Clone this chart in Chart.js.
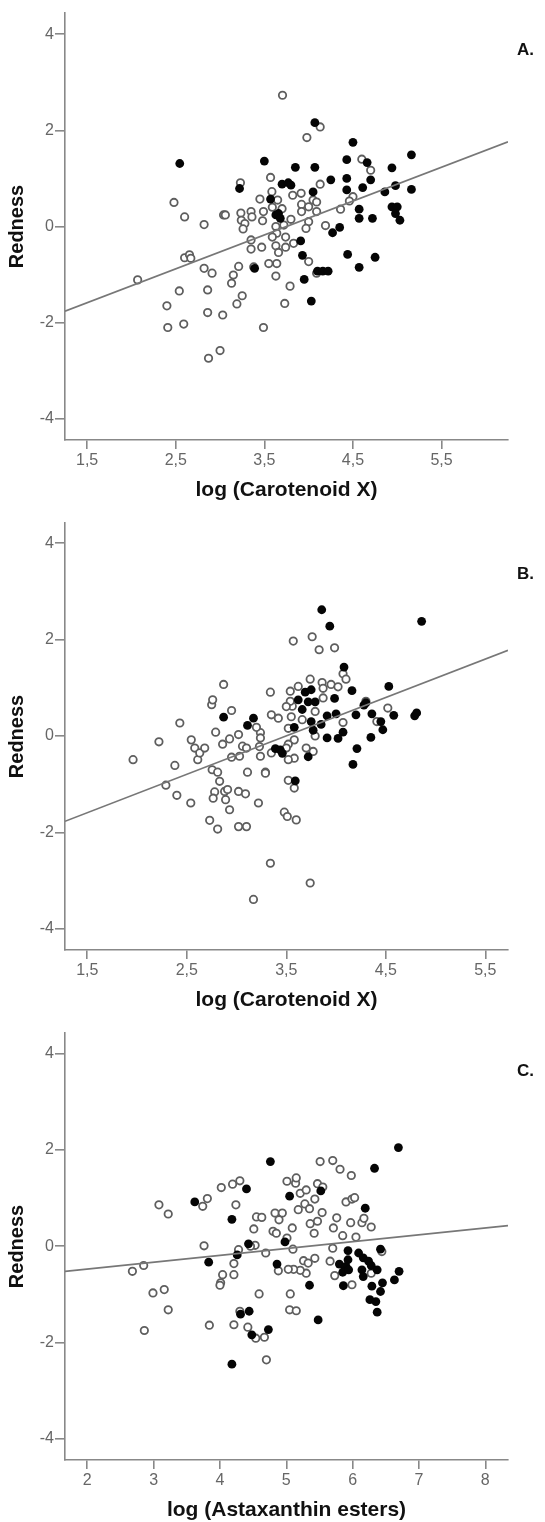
<!DOCTYPE html>
<html>
<head>
<meta charset="utf-8">
<script src="https://cdn.jsdelivr.net/npm/chart.js@4.4.0/dist/chart.umd.min.js"></script>
<style>
  html, body { margin: 0; padding: 0; background: #fff; }
  body { width: 545px; height: 1522px; position: relative; overflow: hidden; }
  canvas { position: absolute; left: 0; }
</style>
</head>
<body>
<canvas id="chartA" width="545" height="510" style="top:0px"></canvas>
<canvas id="chartB" width="545" height="510" style="top:510px"></canvas>
<canvas id="chartC" width="545" height="510" style="top:1020px"></canvas>
<script>
// ---- panel A: log (Carotenoid X) ----
var openA = [
  [2.07,-1.11],[2.48,0.50],[2.60,0.20],[2.82,0.04],[3.04,0.24],[2.60,-0.65],[2.655,-0.59],[2.67,-0.66],
  [2.54,-1.34],[2.40,-1.65],[2.41,-2.10],[2.59,-2.03],[2.86,-1.32],[2.86,-1.79],[3.03,-1.84],[2.82,-0.87],
  [2.91,-0.97],[2.87,-2.74],[3.00,-2.58],[3.19,-1.61],[3.25,-1.44],[3.13,-1.18],[3.15,-1.01],[3.21,-0.83],
  [3.49,-2.10],[3.73,-1.60],[3.79,-1.24],[3.63,-1.03],[3.705,2.73],[3.98,1.85],[4.13,2.07],[3.57,1.02],
  [3.23,0.91],[4.60,1.40],[4.70,1.17],[4.13,0.88],[4.50,0.62],[4.46,0.53],[4.36,0.36],[4.19,0.02],
  [4.00,-0.73],[4.09,-0.97],[3.585,0.725],[3.45,0.57],[3.65,0.55],[3.82,0.65],[3.915,0.69],[4.05,0.55],
  [3.06,0.24],[3.235,0.28],[3.35,0.31],[3.24,0.13],[3.36,0.20],[3.28,0.06],[3.26,-0.05],[3.49,0.31],
  [3.48,0.12],[3.59,0.40],[3.70,0.37],[3.92,0.46],[4.00,0.41],[4.09,0.51],[3.92,0.31],[4.09,0.31],
  [3.80,0.15],[4.00,0.10],[3.97,-0.04],[3.63,0.00],[3.72,0.03],[3.64,-0.14],[3.74,-0.22],[3.59,-0.22],
  [3.83,-0.35],[3.35,-0.28],[3.35,-0.47],[3.47,-0.43],[3.63,-0.40],[3.74,-0.43],[3.66,-0.54],[3.55,-0.77],
  [3.64,-0.77],[3.38,-0.84]
];
var filledA = [
  [2.545,1.31],[3.50,1.36],[4.50,1.75],[4.07,2.16],[3.85,1.23],[4.07,1.23],[4.43,1.39],[4.66,1.33],
  [5.16,1.49],[4.94,1.22],[4.70,0.97],[4.43,1.00],[4.25,0.97],[4.98,0.85],[4.61,0.81],[4.43,0.76],
  [4.86,0.72],[5.16,0.77],[4.94,0.41],[5.00,0.41],[4.98,0.27],[5.03,0.13],[4.57,0.36],[4.57,0.17],
  [4.72,0.17],[4.35,-0.02],[4.27,-0.13],[3.91,-0.30],[3.93,-0.60],[3.95,-1.10],[4.03,-1.55],[4.44,-0.58],
  [4.57,-0.85],[4.75,-0.64],[4.10,-0.93],[4.16,-0.93],[4.22,-0.93],[3.22,0.79],[3.70,0.88],[3.77,0.91],
  [3.80,0.86],[4.05,0.72],[3.57,0.57],[3.63,0.24],[3.66,0.27],[3.68,0.17],[3.39,-0.87]
];
var fitA = [[1.25,-1.76],[6.25,1.76]];
var xTicksA = [1.5, 2.5, 3.5, 4.5, 5.5];

// ---- panel B: log (Carotenoid X) ----
var openB = [
  [1.96,-0.49],[2.22,-0.12],[2.43,0.27],[2.38,-0.61],[2.29,-1.02],[2.40,-1.23],[2.54,-1.39],[2.545,-0.08],
  [2.58,-0.25],[2.61,-0.49],[2.63,-0.35],[2.68,-0.25],[2.73,-1.75],[2.81,-1.93],[2.75,0.65],[2.76,0.75],
  [2.87,1.07],[2.95,0.53],[2.79,0.08],[2.86,-0.17],[2.93,-0.06],[3.02,0.03],[2.95,-0.44],[2.755,-0.70],
  [2.81,-0.75],[2.83,-0.94],[2.78,-1.16],[2.765,-1.29],[2.88,-1.15],[2.91,-1.11],[2.89,-1.32],[2.93,-1.53],
  [3.02,-1.15],[3.09,-1.20],[3.11,-0.75],[3.03,-0.42],[3.06,-0.21],[3.10,-0.25],[3.02,-1.88],[3.10,-1.88],
  [3.22,-1.39],[3.29,-0.75],[3.34,-2.64],[3.17,-3.39],[3.74,-3.05],[3.34,0.91],[3.57,1.97],[3.76,2.06],
  [3.83,1.79],[3.985,1.83],[3.56,0.62],[3.48,-1.58],[3.51,-1.67],[3.60,-1.74],[3.52,-0.92],[3.58,-1.08],
  [3.77,-0.32],[4.07,1.29],[4.10,1.18],[3.74,1.18],[3.62,1.03],[3.54,0.93],[3.86,1.11],[3.95,1.07],
  [4.02,1.02],[3.87,0.99],[3.87,0.79],[3.54,0.72],[3.50,0.61],[3.35,0.44],[3.42,0.37],[3.55,0.40],
  [3.52,0.16],[3.66,0.34],[3.79,0.51],[4.52,0.58],[4.41,0.30],[4.30,0.72],[4.07,0.28],[3.79,0.00],
  [3.24,0.07],[3.24,-0.04],[3.20,0.18],[3.58,-0.08],[3.52,-0.17],[3.23,-0.22],[3.24,-0.42],[3.35,-0.35],
  [3.50,-0.25],[3.58,-0.46],[3.52,-0.49],[3.70,-0.25],[3.29,-0.77]
];
var filledB = [
  [3.856,2.62],[3.937,2.28],[4.86,2.38],[4.08,1.43],[4.53,1.03],[4.16,0.94],[3.985,0.78],[3.69,0.91],
  [3.75,0.96],[3.62,0.75],[3.66,0.55],[3.72,0.71],[3.79,0.71],[3.91,0.42],[4.00,0.46],[4.20,0.44],
  [4.28,0.64],[4.30,0.69],[4.36,0.46],[4.45,0.30],[4.47,0.13],[4.58,0.43],[4.79,0.42],[4.81,0.48],
  [4.35,-0.03],[4.07,0.08],[4.02,-0.05],[3.91,-0.04],[3.85,0.24],[3.77,0.12],[3.75,0.30],[3.58,0.18],
  [3.72,-0.43],[3.59,-0.93],[3.46,-0.36],[3.39,-0.26],[3.44,-0.29],[3.17,0.37],[3.11,0.22],[2.87,0.39],
  [4.21,-0.26],[4.17,-0.59]
];
var fitB = [[1.276,-1.77],[5.728,1.78]];
var xTicksB = [1.5, 2.5, 3.5, 4.5, 5.5];

// ---- panel C: log (Astaxanthin esters) ----
var openC = [
  [2.68,-0.52],[2.85,-0.40],[3.08,0.86],[3.22,0.67],[2.99,-0.97],[3.16,-0.90],[3.22,-1.32],[2.86,-1.75],
  [3.76,0.01],[3.74,0.83],[3.81,0.99],[3.84,-1.64],[4.02,1.22],[4.19,1.29],[4.30,1.36],[4.24,0.86],
  [4.21,-0.36],[4.21,-0.59],[4.04,-0.59],[4.01,-0.76],[4.00,-0.81],[4.28,-0.07],[4.21,-1.63],[4.42,-1.68],
  [4.30,-1.35],[4.54,-1.91],[4.67,-1.89],[4.70,-2.36],[4.59,-0.99],[4.53,0.02],[4.46,0.00],[4.69,-0.14],
  [4.55,0.61],[4.63,0.60],[4.51,0.36],[4.80,0.31],[4.85,0.27],[4.83,0.69],[4.94,0.69],[4.89,0.55],
  [5.01,0.17],[5.09,0.38],[5.10,-0.06],[5.01,1.35],[5.14,1.31],[5.15,1.42],[5.21,1.10],[5.30,1.17],
  [5.28,0.88],[5.18,0.76],[5.35,0.78],[5.43,0.98],[5.47,1.30],[5.55,1.23],[5.51,1.76],[5.70,1.78],
  [5.81,1.60],[5.98,1.47],[5.36,0.47],[5.47,0.52],[5.54,0.70],[5.42,0.27],[5.71,0.38],[5.76,0.59],
  [5.85,0.22],[5.97,0.49],[6.05,0.19],[6.14,0.49],[6.17,0.58],[6.28,0.40],[5.90,0.92],[5.99,0.98],
  [6.03,1.01],[5.70,-0.04],[5.66,-0.31],[5.73,-0.61],[5.99,-0.80],[6.44,-0.11],[6.28,-0.56],[5.43,-0.25],
  [5.26,-0.30],[5.33,-0.35],[5.30,-0.56],[5.21,-0.50],[5.11,-0.48],[5.03,-0.48],[4.88,-0.51],[5.06,-0.99],
  [5.05,-1.32],[5.15,-1.34]
];
var filledC = [
  [6.69,2.05],[6.33,1.62],[4.76,1.76],[4.40,1.19],[3.62,0.92],[5.05,1.04],[5.52,1.15],[6.19,0.79],
  [4.18,0.56],[4.43,0.05],[4.26,-0.18],[3.83,-0.33],[4.98,0.09],[4.86,-0.37],[5.35,-0.81],[5.93,-0.09],
  [6.42,-0.06],[6.09,-0.14],[6.16,-0.24],[6.24,-0.31],[5.80,-0.37],[5.90,-0.42],[5.93,-0.28],[5.85,-0.54],
  [5.94,-0.49],[6.14,-0.49],[6.16,-0.63],[6.28,-0.40],[6.37,-0.49],[6.70,-0.52],[6.63,-0.70],[6.45,-0.76],
  [6.42,-0.94],[6.29,-0.83],[5.86,-0.82],[6.26,-1.11],[6.35,-1.15],[6.37,-1.37],[5.48,-1.53],[4.31,-1.41],
  [4.44,-1.35],[4.48,-1.84],[4.73,-1.73],[4.18,-2.45]
];
var fitC = [[1.664,-0.52],[8.342,0.43]];
var xTicksC = [2, 3, 4, 5, 6, 7, 8];

var yTicks = [-4, -2, 0, 2, 4];

var FONT = '"Liberation Sans", Arial, sans-serif';
var AXIS = '#888';

function pts(arr) {
  return arr.map(function(p){ return {x: p[0], y: p[1]}; });
}

var tagPlugin = {
  id: 'tag',
  afterDraw: function(chart, args, opts) {
    var ctx = chart.ctx;
    ctx.save();
    ctx.font = 'bold 17px ' + FONT;
    ctx.fillStyle = '#111';
    ctx.textBaseline = 'middle';
    ctx.fillText(opts.text, opts.x, opts.y);
    ctx.restore();
  }
};

function makePanel(id, open, filled, fit, xMin, xMax, xTicks, yMin, yMax, xTitle, tag, tagY) {
  new Chart(document.getElementById(id), {
    type: 'scatter',
    data: {
      datasets: [
        {
          type: 'line',
          data: pts(fit),
          borderColor: '#777',
          borderWidth: 1.7,
          pointRadius: 0,
          fill: false
        },
        {
          data: pts(filled),
          pointRadius: 4.4,
          borderWidth: 0,
          backgroundColor: '#050505',
          borderColor: '#050505'
        },
        {
          data: pts(open),
          pointRadius: 3.7,
          borderWidth: 1.8,
          backgroundColor: '#fff',
          borderColor: '#5e5e5e'
        }
      ]
    },
    options: {
      responsive: false,
      animation: false,
      devicePixelRatio: 1,
      layout: { padding: { left: 0, right: 37, top: 13, bottom: 0 } },
      plugins: {
        legend: { display: false },
        tooltip: { enabled: false },
        tag: { text: tag, x: 517, y: tagY }
      },
      scales: {
        x: {
          type: 'linear',
          min: xMin,
          max: xMax,
          afterBuildTicks: function(s){ s.ticks = xTicks.map(function(v){ return {value: v}; }); },
          afterFit: function(s){ s.height = 70; },
          grid: { drawOnChartArea: false, drawTicks: true, tickLength: 9, color: AXIS, lineWidth: 1.6 },
          border: { display: true, color: AXIS, width: 1.6 },
          ticks: {
            color: '#666',
            font: { family: FONT, size: 16 },
            padding: 2,
            maxRotation: 0,
            callback: function(v){ return String(v).replace('.', ','); }
          },
          title: {
            display: true,
            text: xTitle,
            color: '#111',
            font: { family: FONT, size: 21, weight: 'bold' },
            padding: { top: 0, bottom: 7 }
          }
        },
        y: {
          type: 'linear',
          min: yMin,
          max: yMax,
          afterBuildTicks: function(s){ s.ticks = yTicks.map(function(v){ return {value: v}; }); },
          afterFit: function(s){ s.width = 65; },
          grid: { drawOnChartArea: false, drawTicks: true, tickLength: 10, color: AXIS, lineWidth: 1.6 },
          border: { display: true, color: AXIS, width: 1.6 },
          ticks: {
            color: '#666',
            font: { family: FONT, size: 16 },
            padding: 1,
            callback: function(v){ return String(v); }
          },
          title: {
            display: true,
            text: 'Redness',
            color: '#111',
            font: { family: FONT, size: 20, weight: 'bold' },
            padding: { top: 5, bottom: 0 }
          }
        }
      }
    },
    plugins: [tagPlugin]
  });
}

makePanel('chartA', openA, filledA, fitA, 1.25, 6.25, xTicksA, -4.44, 4.44, 'log (Carotenoid X)', 'A.', 50);
makePanel('chartB', openB, filledB, fitB, 1.276, 5.728, xTicksB, -4.44, 4.42, 'log (Carotenoid X)', 'B.', 64);
makePanel('chartC', openC, filledC, fitC, 1.664, 8.342, xTicksC, -4.44, 4.43, 'log (Astaxanthin esters)', 'C.', 51);
</script>
</body>
</html>
